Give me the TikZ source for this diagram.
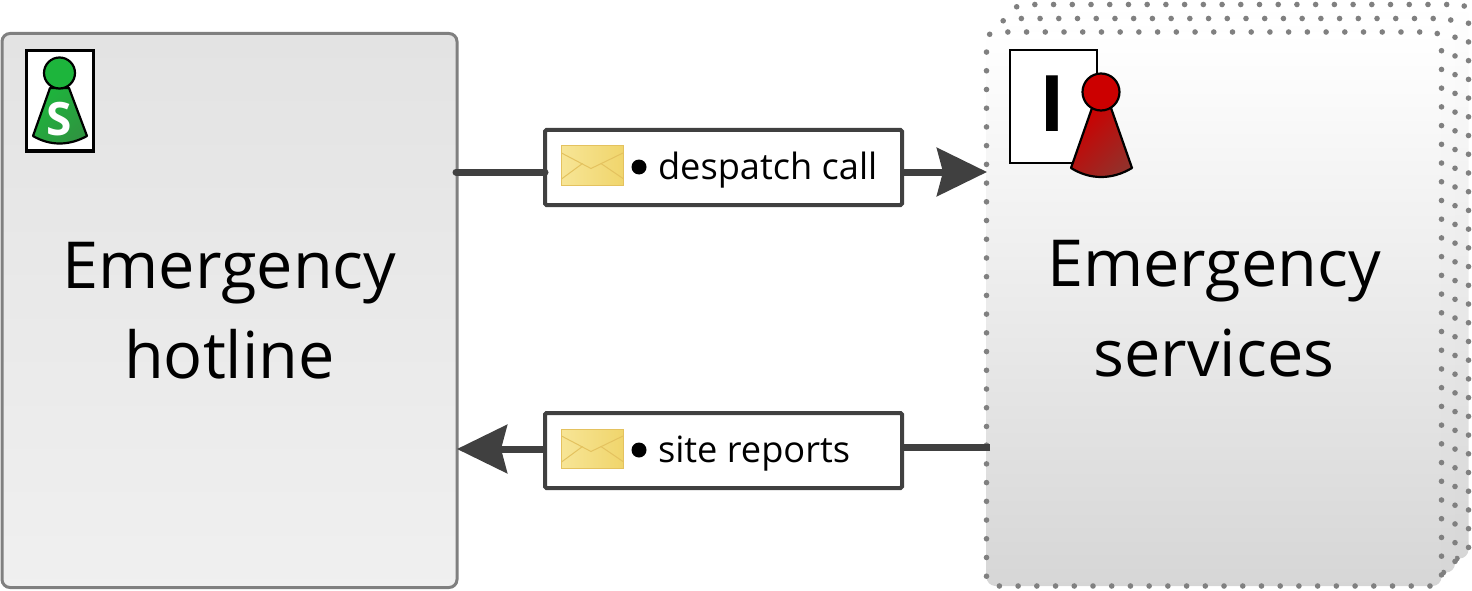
\documentclass[tikz,border=0pt]{standalone}
\usepackage{fontspec}
\setmainfont{Open Sans}
\usetikzlibrary{arrows.meta}
\definecolor{linegray}{HTML}{404040}
\definecolor{dotgray}{HTML}{808080}
\definecolor{mailedge}{HTML}{E4C25F}
\definecolor{mailleft}{HTML}{F7E596}
\definecolor{mailright}{HTML}{F0D56C}
\definecolor{greenlight}{HTML}{1DB53C}
\definecolor{greendark}{HTML}{2F9440}
\definecolor{redlight}{HTML}{CC0000}
\definecolor{reddark}{HTML}{93302A}
\begin{document}
\begin{tikzpicture}[x=1pt,y=-1pt]
        \tikzstyle{every node} = [rectangle, inner sep=0pt, outer sep=0pt]
        \tikzstyle{partybox} = [minimum width=455pt, minimum height=554pt, align=center,
            font=\fontsize{64.8}{90}\selectfont]
        \tikzstyle{hotlinebox} = [partybox, draw=dotgray, line width=3pt, rounded corners=8pt,
            top color=black!11, bottom color=black!6]
        \tikzstyle{servicebox} = [partybox, draw=dotgray, line width=5.6pt, line cap=round,
            dash pattern=on 0pt off 18.72pt, dash phase=5.9pt, rounded corners=9pt,
            top color=white, middle color=black!5, bottom color=black!16]
        \tikzstyle{msgbox} = [draw=linegray, fill=white, line width=4pt, rounded corners=1.5pt,
            minimum width=357pt, minimum height=75pt]
        \tikzstyle{msgtext} = [anchor=base west, font=\fontsize{36.2}{36}\selectfont]
        \tikzstyle{flow} = [draw=linegray, line width=7pt]
        \tikzstyle{head} = [-{Stealth[length=50pt,width=48pt,inset=6pt]}]
        \tikzstyle{pawn} = [draw=black, line width=2.2pt, line join=round]
        \useasboundingbox (0,0) rectangle (1472,591);

        \node (hotline) at (229.5,310.5) [hotlinebox] {Emergency\\hotline};
        \node (services3) at (1241,281.5) [servicebox] {};
        \node (services2) at (1227.5,295.5) [servicebox] {};
        \node (services) at (1214,309) [servicebox] {Emergency\\services};

        \node (despatch) at (723.5,167.5) [msgbox] {};
        \node (reports) at (723.5,450.5) [msgbox] {};

        \coordinate (hotlineout) at (456,172);
        \coordinate (servicesin) at (987,172);
        \coordinate (servicesout) at (990,447);
        \coordinate (hotlinein) at (457,449);

        \draw[flow, line cap=round] (hotlineout) -- (hotlineout -| despatch.west);
        \draw[flow, head] (servicesin -| despatch.east) -- (servicesin);
        \draw[flow] (servicesout) -- (servicesout -| reports.east);
        \draw[flow, head] (hotlinein -| reports.west) -- (hotlinein);

        \node at (658,179) [msgtext] {despatch call};
        \node at (658,462) [msgtext] {site reports};

        % envelopes and bullets
        \foreach \name/\ypos in {despatch/146, reports/429} {
            \begin{scope}[shift={(561,\ypos)}]
                \node (\name mail) at (31,19.5) [draw=mailedge, line width=1pt, minimum width=62pt,
                    minimum height=39pt, left color=mailleft, right color=mailright] {};
                \draw[mailedge, line width=1pt] (0.5,7) -- (30,22.5) -- (62,7);
                \draw[mailedge, line width=1pt] (0.5,33) -- (21.5,17.5);
                \draw[mailedge, line width=1pt] (40,17.5) -- (62,32.5);
                \node (\name dot) at (78,21) [circle, fill=black, minimum size=15pt] {};
            \end{scope}
        }

        % green role
        \node (sticker) at (59.5,101) [draw=black, fill=white, line width=3pt,
            minimum width=67pt, minimum height=100pt] {};
        \draw[pawn, left color=greenlight, right color=greendark, shading angle=45]
            (50,88) -- (33,136) .. controls (50,146) and (69,146) .. (87,136) -- (69,88) -- cycle;
        \node (greenhead) at (59.5,73) [circle, pawn, fill=greenlight, minimum size=31pt] {};
        \node (greenletter) at (59,119) [text=white, font=\fontsize{46}{46}\selectfont\bfseries] {S};

        % red role
        \node (sheet) at (1053.5,106.5) [draw=black, fill=white, line width=2pt,
            minimum width=87pt, minimum height=113pt] {};
        \node (redletter) at (1052.5,104) [font=\fontsize{78}{78}\selectfont\bfseries] {I};
        \draw[pawn, left color=redlight, right color=reddark, shading angle=45]
            (1092,108) -- (1071,168) .. controls (1090,180) and (1112,180) .. (1132,168) -- (1111,108) -- cycle;
        \node (redhead) at (1101,92) [circle, pawn, fill=redlight, minimum size=37pt] {};
\end{tikzpicture}
\end{document}
